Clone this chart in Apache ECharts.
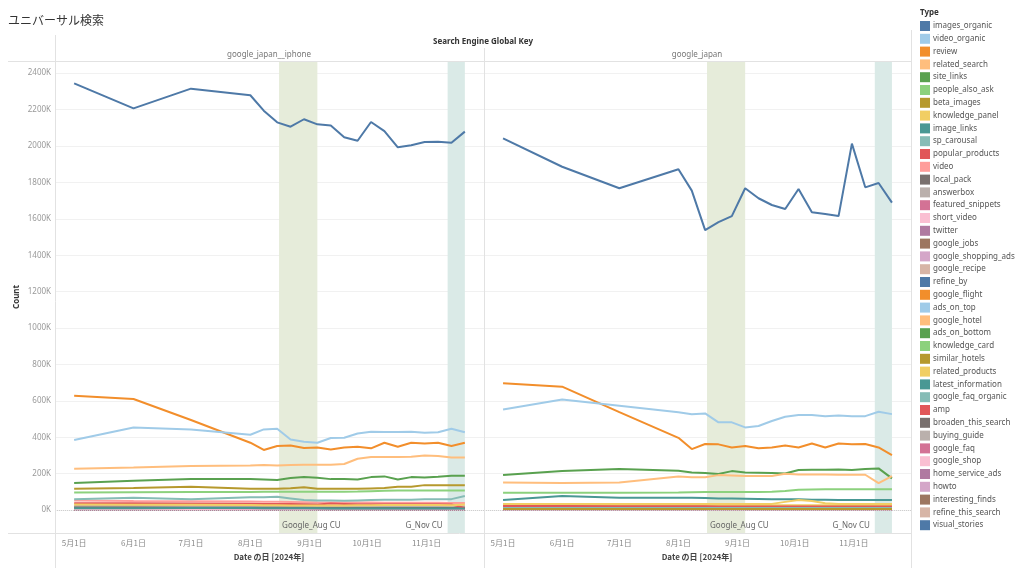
<!DOCTYPE html>
<html><head><meta charset="utf-8">
<script src="https://cdn.jsdelivr.net/npm/echarts@6/dist/echarts.min.js"></script>
<style>html,body{margin:0;padding:0;background:#fff}#c{width:1024px;height:576px}</style>
</head><body><div id="c"></div><script>
// ---- data (values in K) ----
const dates = ['2024-05-01','2024-06-01','2024-07-01','2024-08-01','2024-08-08','2024-08-15','2024-08-22','2024-08-29','2024-09-05','2024-09-12','2024-09-19','2024-09-26','2024-10-03','2024-10-10','2024-10-17','2024-10-24','2024-10-31','2024-11-07','2024-11-14','2024-11-21'];
const panels = ['google_japan__iphone', 'google_japan'];
const yTicks = [0,200,400,600,800,1000,1200,1400,1600,1800,2000,2200,2400];
const xTicks = ['2024-05-01','2024-06-01','2024-07-01','2024-08-01','2024-09-01','2024-10-01','2024-11-01'];
const bandNames = ['Google_Aug CU', 'G_Nov CU'];
const bandStarts = ['2024-08-16', '2024-11-12'];
const bandEnds = ['2024-09-05', '2024-11-21'];

const types = ['images_organic','video_organic','review','related_search','site_links','people_also_ask','beta_images','knowledge_panel','image_links','sp_carousal','popular_products','video','local_pack','answerbox','featured_snippets','short_video','twitter','google_jobs','google_shopping_ads','google_recipe','refine_by','google_flight','ads_on_top','google_hotel','ads_on_bottom','knowledge_card','similar_hotels','related_products','latest_information','google_faq_organic','amp','broaden_this_search','buying_guide','google_faq','google_shop','home_service_ads','howto','interesting_finds','refine_this_search','visual_stories'];
const colors = ['#4E79A7','#A0CBE8','#F28E2B','#FFBE7D','#59A14F','#8CD17D','#B6992D','#F1CE63','#499894','#86BCB6','#E15759','#FF9D9A','#79706E','#BAB0AC','#D37295','#FABFD2','#B07AA1','#9D7660','#D4A6C8','#D7B5A6','#4E79A7','#F28E2B','#A0CBE8','#FFBE7D','#59A14F','#8CD17D','#B6992D','#F1CE63','#499894','#86BCB6','#E15759','#79706E','#BAB0AC','#D37295','#FABFD2','#B07AA1','#D4A6C8','#9D7660','#D7B5A6','#4E79A7'];

// google_japan__iphone
const L_images_organic = [2344,2207,2315,2279,2194,2130,2106,2147,2119,2112,2048,2029,2132,2082,1993,2004,2022,2024,2018,2079];
const L_video_organic = [385,454,443,414,443,447,388,375,370,396,397,421,430,429,429,430,425,427,447,427];
const L_review = [628,610,495,370,330,352,355,341,344,333,344,348,339,370,348,370,366,370,352,370];
const L_related_search = [227,234,242,245,247,245,247,249,249,249,253,282,291,291,291,293,300,297,289,289];
const L_site_links = [148,161,170,170,168,165,176,181,178,170,170,168,181,185,168,181,179,183,189,189];
const L_people_also_ask = [97,98,99,99,100,100,100,100,100,100,101,102,104,106,107,107,107,107,107,107];
const L_beta_images = [117,121,128,117,117,117,120,125,117,117,117,117,119,121,128,128,137,137,137,136];
const L_knowledge_panel = [30,29,29,28,27,26,25,25,25,25,25,26,27,28,28,28,28,28,27,30];
const L_image_links = [10,10,11,11,10,10,10,10,10,9,9,9,9,9,9,9,9,9,9,9];
const L_sp_carousal = [60,68,59,71,71,73,64,55,53,53,51,53,55,57,57,57,59,59,60,77];
const L_popular_products = [38,37,36,35,34,33,33,32,31,36,34,32,32,32,32,32,32,32,31,12];
const L_video = [52,50,49,47,46,45,44,43,42,42,41,41,41,40,40,40,40,40,39,39];
const L_local_pack = [14,14,13,13,13,13,13,13,12,12,12,12,12,12,12,12,12,12,12,12];
const L_answerbox = [22,22,21,21,21,20,20,20,20,20,20,20,20,20,20,20,20,20,20,20];
const L_featured_snippets = [17,17,16,16,16,16,15,15,15,15,15,15,15,15,15,15,15,15,15,15];
const L_short_video = [6,6,6,7,7,7,7,7,8,8,8,8,8,8,8,9,9,9,9,9];
const L_twitter = [2,2,2,2,2,2,2,2,2,2,2,2,2,2,2,2,2,2,2,2];
const L_google_jobs = [3,3,3,3,3,3,3,3,3,3,3,3,3,3,3,3,3,3,3,3];
const L_google_shopping_ads = [4,4,4,4,4,4,4,4,4,4,4,4,4,4,4,4,4,4,4,4];
const L_google_recipe = [2,2,2,2,2,2,2,2,2,2,2,2,2,2,2,2,2,2,2,2];
const L_refine_by = [5,5,5,5,5,5,5,5,5,5,5,5,5,5,5,5,5,5,5,5];
const L_google_flight = [1,1,1,1,1,1,1,1,1,1,1,1,1,1,1,1,1,1,1,1];
const L_ads_on_top = [8,8,8,8,8,8,8,8,8,8,8,8,8,8,8,8,8,8,8,8];
const L_google_hotel = [1,1,1,1,1,1,1,1,1,1,1,1,1,1,1,1,1,1,1,1];
const L_ads_on_bottom = [4,4,4,4,4,4,4,4,4,4,4,4,4,4,4,4,4,4,4,4];
const L_knowledge_card = [6,6,6,6,6,6,6,6,6,6,6,6,6,6,6,6,6,6,6,6];
const L_similar_hotels = [1,1,1,1,1,1,1,1,1,1,1,1,1,1,1,1,1,1,1,1];
const L_related_products = [18,18,18,18,18,18,18,18,18,18,18,18,18,18,18,18,18,18,18,18];
const L_latest_information = [4,4,4,4,4,4,4,4,4,4,4,4,4,4,4,4,4,4,4,4];
const L_google_faq_organic = [3,3,3,3,3,3,3,3,3,3,3,3,3,3,3,3,3,3,3,3];
const L_amp = [2,2,2,2,2,2,2,2,2,2,2,2,2,2,2,2,2,2,2,2];
const L_broaden_this_search = [3,3,3,3,3,3,3,3,3,3,3,3,3,3,3,3,3,3,3,3];
const L_buying_guide = [1,1,1,1,1,1,1,1,1,1,1,1,1,1,1,1,1,1,1,1];
const L_google_faq = [2,2,2,2,2,2,2,2,2,2,2,2,2,2,2,2,2,2,2,2];
const L_google_shop = [1,1,1,1,1,1,1,1,1,1,1,1,1,1,1,1,1,1,1,1];
const L_home_service_ads = [1,1,1,1,1,1,1,1,1,1,1,1,1,1,1,1,1,1,1,1];
const L_howto = [1,1,1,1,1,1,1,1,1,1,1,1,1,1,1,1,1,1,1,1];
const L_interesting_finds = [2,2,2,2,2,2,2,2,2,2,2,2,2,2,2,2,2,2,2,2];
const L_refine_this_search = [2,2,2,2,2,2,2,2,2,2,2,2,2,2,2,2,2,2,2,2];
const L_visual_stories = [3,3,3,3,3,3,3,3,3,3,3,3,3,3,3,3,3,3,3,3];

// google_japan
const R_images_organic = [2042,1886,1768,1872,1755,1538,1582,1615,1768,1713,1676,1654,1764,1636,1626,1615,2013,1773,1797,1689];
const R_video_organic = [553,608,573,537,527,531,482,482,454,462,489,513,522,522,515,520,515,516,540,527];
const R_review = [696,678,538,397,335,363,361,344,352,339,344,355,344,366,344,366,361,363,344,302];
const R_related_search = [152,148,152,185,180,180,192,190,187,187,187,200,196,196,196,194,194,194,148,187];
const R_site_links = [192,214,225,216,207,203,198,214,207,205,203,201,220,221,221,223,220,225,229,174];
const R_people_also_ask = [95,95,95,96,98,99,99,99,99,99,100,105,112,113,114,114,114,114,114,114];
const R_beta_images = [6,6,6,6,6,6,6,6,6,6,6,6,6,6,6,6,6,6,6,6];
const R_knowledge_panel = [33,33,33,33,33,33,33,33,33,33,34,45,55,50,38,33,33,33,33,33];
const R_image_links = [55,77,68,68,67,66,64,63,62,61,60,59,59,57,56,55,55,55,55,55];
const R_sp_carousal = [12,12,12,12,12,12,12,12,12,12,12,12,12,12,12,12,12,12,12,12];
const R_popular_products = [22,22,21,21,21,21,20,20,20,20,20,20,20,20,20,20,20,20,20,20];
const R_video = [16,16,16,16,16,16,16,16,16,16,16,16,16,16,16,16,16,16,16,16];
const R_local_pack = [10,10,10,10,10,10,10,10,10,10,10,10,10,10,10,10,10,10,10,10];
const R_answerbox = [8,8,8,8,8,8,8,8,8,8,8,8,8,8,8,8,8,8,8,8];
const R_featured_snippets = [14,14,14,14,14,14,14,14,14,14,14,14,14,14,14,14,14,14,14,14];
const R_short_video = [4,4,4,4,4,4,4,4,4,4,4,4,4,4,4,4,4,4,4,4];
const R_twitter = [2,2,2,2,2,2,2,2,2,2,2,2,2,2,2,2,2,2,2,2];
const R_google_jobs = [3,3,3,3,3,3,3,3,3,3,3,3,3,3,3,3,3,3,3,3];
const R_google_shopping_ads = [5,5,5,5,5,5,5,5,5,5,5,5,5,5,5,5,5,5,5,5];
const R_google_recipe = [2,2,2,2,2,2,2,2,2,2,2,2,2,2,2,2,2,2,2,2];
const R_refine_by = [4,4,4,4,4,4,4,4,4,4,4,4,4,4,4,4,4,4,4,4];
const R_google_flight = [1,1,1,1,1,1,1,1,1,1,1,1,1,1,1,1,1,1,1,1];
const R_ads_on_top = [9,9,9,9,9,9,9,9,9,9,9,9,9,9,9,9,9,9,9,9];
const R_google_hotel = [1,1,1,1,1,1,1,1,1,1,1,1,1,1,1,1,1,1,1,1];
const R_ads_on_bottom = [4,4,4,4,4,4,4,4,4,4,4,4,4,4,4,4,4,4,4,4];
const R_knowledge_card = [5,5,5,5,5,5,5,5,5,5,5,5,5,5,5,5,5,5,5,5];
const R_similar_hotels = [1,1,1,1,1,1,1,1,1,1,1,1,1,1,1,1,1,1,1,1];
const R_related_products = [26,26,26,26,26,26,26,26,26,26,26,26,26,26,26,26,26,26,26,26];
const R_latest_information = [3,3,3,3,3,3,3,3,3,3,3,3,3,3,3,3,3,3,3,3];
const R_google_faq_organic = [3,3,3,3,3,3,3,3,3,3,3,3,3,3,3,3,3,3,3,3];
const R_amp = [18,18,18,18,18,18,18,18,18,18,18,18,18,18,18,18,18,18,18,18];
const R_broaden_this_search = [3,3,3,3,3,3,3,3,3,3,3,3,3,3,3,3,3,3,3,3];
const R_buying_guide = [1,1,1,1,1,1,1,1,1,1,1,1,1,1,1,1,1,1,1,1];
const R_google_faq = [2,2,2,2,2,2,2,2,2,2,2,2,2,2,2,2,2,2,2,2];
const R_google_shop = [1,1,1,1,1,1,1,1,1,1,1,1,1,1,1,1,1,1,1,1];
const R_home_service_ads = [1,1,1,1,1,1,1,1,1,1,1,1,1,1,1,1,1,1,1,1];
const R_howto = [1,1,1,1,1,1,1,1,1,1,1,1,1,1,1,1,1,1,1,1];
const R_interesting_finds = [5,5,5,5,5,5,5,5,5,5,5,5,5,5,5,5,5,5,5,5];
const R_refine_this_search = [2,2,2,2,2,2,2,2,2,2,2,2,2,2,2,2,2,2,2,2];
const R_visual_stories = [3,3,3,3,3,3,3,3,3,3,3,3,3,3,3,3,3,3,3,3];

const leftData = [L_images_organic,L_video_organic,L_review,L_related_search,L_site_links,L_people_also_ask,L_beta_images,L_knowledge_panel,L_image_links,L_sp_carousal,L_popular_products,L_video,L_local_pack,L_answerbox,L_featured_snippets,L_short_video,L_twitter,L_google_jobs,L_google_shopping_ads,L_google_recipe,L_refine_by,L_google_flight,L_ads_on_top,L_google_hotel,L_ads_on_bottom,L_knowledge_card,L_similar_hotels,L_related_products,L_latest_information,L_google_faq_organic,L_amp,L_broaden_this_search,L_buying_guide,L_google_faq,L_google_shop,L_home_service_ads,L_howto,L_interesting_finds,L_refine_this_search,L_visual_stories];
const rightData = [R_images_organic,R_video_organic,R_review,R_related_search,R_site_links,R_people_also_ask,R_beta_images,R_knowledge_panel,R_image_links,R_sp_carousal,R_popular_products,R_video,R_local_pack,R_answerbox,R_featured_snippets,R_short_video,R_twitter,R_google_jobs,R_google_shopping_ads,R_google_recipe,R_refine_by,R_google_flight,R_ads_on_top,R_google_hotel,R_ads_on_bottom,R_knowledge_card,R_similar_hotels,R_related_products,R_latest_information,R_google_faq_organic,R_amp,R_broaden_this_search,R_buying_guide,R_google_faq,R_google_shop,R_home_service_ads,R_howto,R_interesting_finds,R_refine_this_search,R_visual_stories];

// ---- chart ----
// x positions are day numbers (days since 2024-01-01) on a value axis
function dayNum(s){ const p = s.split('-').map(Number); return Math.round((Date.UTC(p[0], p[1]-1, p[2]) - Date.UTC(2024,0,1)) / 86400000); }
function dayLabel(n){ const d = new Date(Date.UTC(2024,0,1) + n*86400000); return (d.getUTCMonth()+1) + '月' + d.getUTCDate() + '日'; }
const FONT = '"Noto Sans", "Noto Sans CJK JP", sans-serif';
const JFONT = '"Noto Sans CJK JP", "Noto Sans", sans-serif';
const bandColors = ['#E6ECDA', '#DAEAE7'];
const grids = [{left:55, top:61, width:429, height:472}, {left:484, top:61, width:427, height:472}];

const xAxes = grids.map((g, i) => ({
  type:'value', gridIndex:i, min: dayNum('2024-04-21'), max: dayNum('2024-12-01'),
  axisLine:{show:false}, axisTick:{show:false}, splitLine:{show:false},
  axisLabel:{customValues: xTicks.map(dayNum), formatter: v => dayLabel(v),
    color:'#8a8a8a', fontSize:8, fontFamily:JFONT, margin:6, hideOverlap:false}
}));
const yAxes = grids.map((g, i) => ({
  type:'value', gridIndex:i, min:-126, max:2467,
  axisLine:{show:false}, axisTick:{show:false, customValues:yTicks},
  axisLabel:{show: i===0, customValues:yTicks, formatter: v => v + 'K', color:'#999', fontSize:8, fontFamily:FONT, margin:4},
  splitLine:{show:true, lineStyle:{color:'#f1f1f1', width:1}}
}));

const series = [];
panels.forEach((p, pi) => {
  series.push({
    type:'line', xAxisIndex:pi, yAxisIndex:pi, data:[], silent:true, animation:false,
    markArea:{silent:true, data: bandNames.map((b, bi) => [
      {xAxis: dayNum(bandStarts[bi]), itemStyle:{color:bandColors[bi]},
       label:{show:true, formatter:b, position:'insideBottomLeft', align: bi===0 ? 'left' : 'right',
              offset: bi===0 ? [0,0] : [-8,0], distance:3, color:'#666', fontSize:8, fontFamily:FONT}},
      {xAxis: dayNum(bandEnds[bi])}
    ])},
    markLine:{silent:true, symbol:'none', label:{show:false}, lineStyle:{color:'#cfcfcf', type:'dotted', width:1},
      data:[{yAxis:0}]}
  });
  const vals = pi === 0 ? leftData : rightData;
  for (let k = types.length - 1; k >= 0; k--) {
    series.push({
      name: types[k], type:'line', xAxisIndex:pi, yAxisIndex:pi, showSymbol:false, symbol:'none',
      animation:false, silent:true, color: colors[k],
      lineStyle:{width:2, color: colors[k]},
      data: dates.map((d, j) => [dayNum(d), vals[k][j]])
    });
  }
});

const lineStyle = {stroke:'#e2e2e2', lineWidth:1};
const graphic = [
  {type:'text', x:8, y:20, style:{text:'ユニバーサル検索', fontSize:12, fill:'#333', fontFamily:JFONT, verticalAlign:'middle'}},
  {type:'text', x:483, y:42, style:{text:'Search Engine Global Key', fontSize:8, fontWeight:'bold', fill:'#333', fontFamily:FONT, align:'center', verticalAlign:'middle'}},
  {type:'text', x:269, y:55, style:{text:panels[0], fontSize:8, fill:'#777', fontFamily:FONT, align:'center', verticalAlign:'middle'}},
  {type:'text', x:697, y:55, style:{text:panels[1], fontSize:8, fill:'#777', fontFamily:FONT, align:'center', verticalAlign:'middle'}},
  {type:'text', x:17, y:297, rotation:Math.PI/2, style:{text:'Count', fontSize:8, fontWeight:'bold', fill:'#333', fontFamily:FONT, align:'center', verticalAlign:'middle'}},
  {type:'text', x:269, y:557, style:{text:'Date の日 [2024年]', fontSize:8, fontWeight:'bold', fill:'#444', fontFamily:JFONT, align:'center', verticalAlign:'middle'}},
  {type:'text', x:697, y:557, style:{text:'Date の日 [2024年]', fontSize:8, fontWeight:'bold', fill:'#444', fontFamily:JFONT, align:'center', verticalAlign:'middle'}},
  {type:'text', x:920, y:13, style:{text:'Type', fontSize:8, fontWeight:'bold', fill:'#333', fontFamily:FONT, verticalAlign:'middle'}},
  {type:'line', shape:{x1:8, y1:61.5, x2:911, y2:61.5}, style:lineStyle, z:10},
  {type:'line', shape:{x1:8, y1:533.5, x2:911, y2:533.5}, style:lineStyle, z:10},
  {type:'line', shape:{x1:55.5, y1:35, x2:55.5, y2:568}, style:lineStyle, z:10},
  {type:'line', shape:{x1:484.5, y1:48, x2:484.5, y2:568}, style:lineStyle, z:10},
  {type:'line', shape:{x1:911.5, y1:30, x2:911.5, y2:568}, style:lineStyle, z:10}
];

const chart = echarts.init(document.getElementById('c'), null, {renderer:'canvas'});
chart.setOption({
  backgroundColor:'#fff', animation:false,
  grid: grids, xAxis: xAxes, yAxis: yAxes, series: series, graphic: graphic,
  legend:{orient:'vertical', left:920, top:21, padding:0, itemWidth:10, itemHeight:10, itemGap:2.8, icon:'rect',
    selectedMode:false, data: types,
    textStyle:{fontSize:8, color:'#555', fontFamily:FONT, padding:[0,0,0,-2]}}
});
</script></body></html>
